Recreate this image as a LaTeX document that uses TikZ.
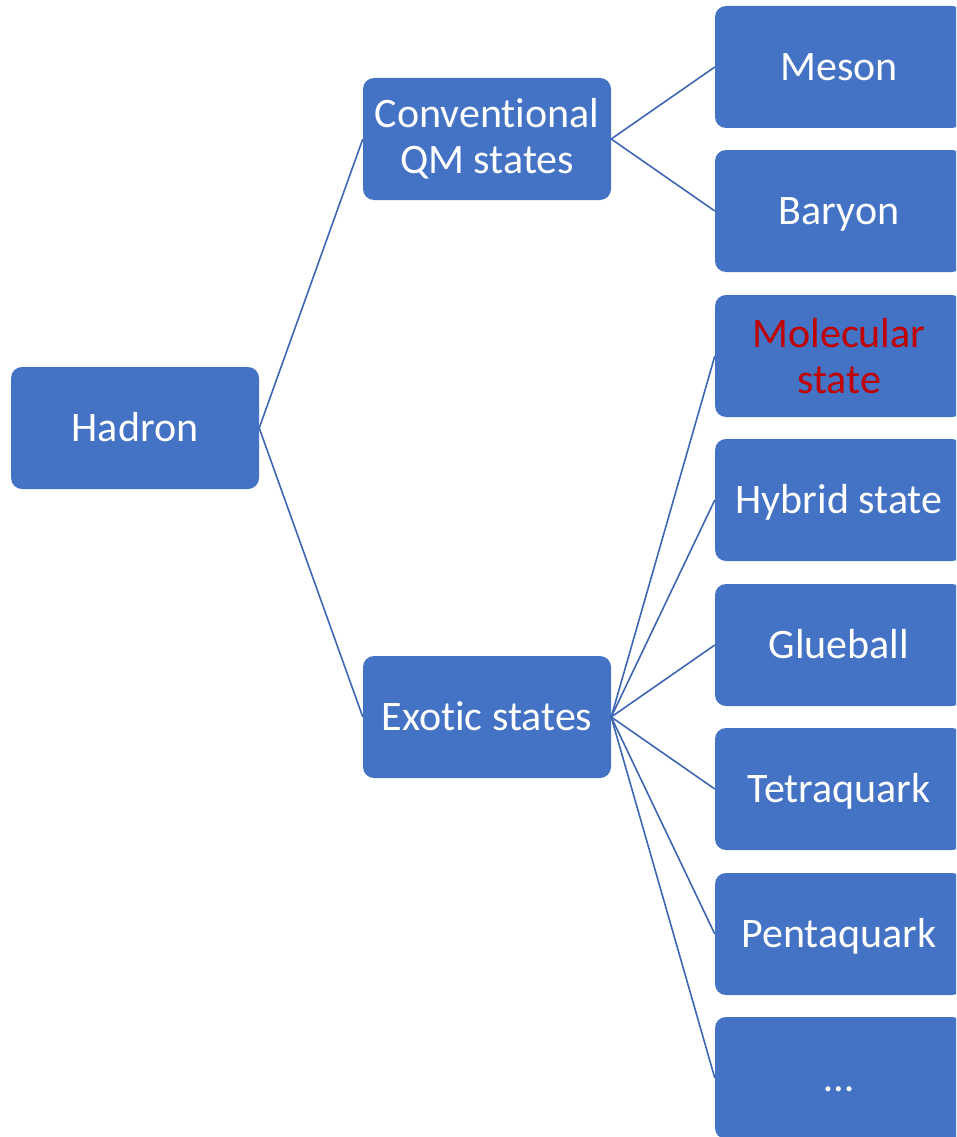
\documentclass[tikz,border=0pt]{standalone}
\usepackage{fontspec}
\setmainfont[Ligatures=NoCommon]{Carlito}
\definecolor{boxblue}{HTML}{4472C4}
\definecolor{lineblue}{HTML}{3D66B3}
\definecolor{molred}{HTML}{C00000}
\begin{document}
\begin{tikzpicture}[x=1pt,y=-1pt,
  hbox/.style={fill=boxblue, draw=none, rounded corners=11pt, minimum width=248pt, minimum height=122pt,
    inner sep=0pt, align=center, text=white, font=\fontsize{42}{46}\selectfont},
  one/.style={text height=27pt, text depth=0pt},
  conn/.style={draw=lineblue, line width=1.6pt}]
\useasboundingbox (0,0) rectangle (956,1137);
\clip (0,0) rectangle (956,1137);
\node[hbox, one] (hadron) at (135,428) {Hadron};
\node[hbox] (conv) at (487,139) {Conventional\\QM states};
\node[hbox, one] (exotic) at (487,717) {Exotic states};
\node[hbox, one] (meson) at (839,67) {Meson};
\node[hbox, one] (baryon) at (839,211) {Baryon};
\node[hbox, text=molred] (mol) at (839,356) {Molecular\\state};
\node[hbox, one] (hybrid) at (839,500) {Hybrid state};
\node[hbox, one] (glue) at (839,645) {Glueball};
\node[hbox, one] (tetra) at (839,789) {Tetraquark};
\node[hbox, one] (penta) at (839,934) {Pentaquark};
\node[hbox, one] (dots) at (839,1078) {…};
\draw[conn] (hadron.east) -- (conv.west);
\draw[conn] (hadron.east) -- (exotic.west);
\draw[conn] (conv.east) -- (meson.west);
\draw[conn] (conv.east) -- (baryon.west);
\foreach \n in {mol,hybrid,glue,tetra,penta,dots}
  \draw[conn] (exotic.east) -- (\n.west);
\end{tikzpicture}
\end{document}
